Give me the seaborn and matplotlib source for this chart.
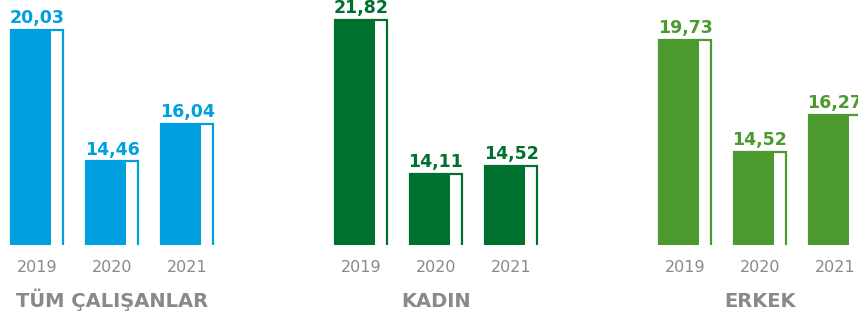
import pandas as pd
import matplotlib.pyplot as plt
import seaborn as sns

# chart data
years = ['2019', '2020', '2021']
group_names = ['TÜM ÇALIŞANLAR', 'KADIN', 'ERKEK']
tum_values = [20.03, 14.46, 16.04]
kadin_values = [21.82, 14.11, 14.52]
erkek_values = [19.73, 14.52, 16.27]

# styling per group
colors = ['#009FDF', '#00702F', '#4C9A2F']
ylims = [(10.92, 21.30), (10.57, 22.82), (10.2, 21.6)]
left_px = [-0.5, 323.5, 647.5]

W, H = 858, 317
GRAY = '#88898c'


def draw_group(fig, left, values, name, color, ylim):
    ax = fig.add_axes([left / W, 72 / H, 225 / W, 245 / H])
    df = pd.DataFrame({'year': years, 'value': values})
    # outlined bar (white right part)
    sns.barplot(data=df, x='year', y='value', color='white', saturation=1,
                width=0.693, edgecolor=color, linewidth=1.6, ax=ax)
    # filled part, aligned to the left edge of the outline
    sns.barplot(data=df, x='year', y='value', color=color, saturation=1,
                width=0.533, linewidth=0, ax=ax)
    for p in ax.patches[3:]:
        p.set_x(p.get_x() - 0.08)
    ax.bar_label(ax.containers[0],
                 labels=[f'{v:.2f}'.replace('.', ',') for v in values],
                 padding=2, fontsize=12.5, fontweight='bold', color=color)
    ax.set_xlim(-0.5, 2.5)
    ax.set_ylim(*ylim)
    ax.set_yticks([])
    ax.set_ylabel('')
    ax.set_xlabel('')
    ax.tick_params(axis='x', length=0, pad=11, labelsize=11.5, labelcolor=GRAY)
    # group title under the years
    ax.text(0.5, -0.253, name, transform=ax.transAxes, ha='center',
            va='baseline', fontsize=14, fontweight='bold', color=GRAY)
    sns.despine(ax=ax, left=True, bottom=True)
    ax.patch.set_alpha(0)
    return ax


sns.set_style('white')
fig = plt.figure(figsize=(W / 100, H / 100), dpi=100)
all_values = [tum_values, kadin_values, erkek_values]
for i in range(3):
    draw_group(fig, left_px[i], all_values[i], group_names[i], colors[i], ylims[i])

fig.savefig('out.png', dpi=100)
plt.close()
